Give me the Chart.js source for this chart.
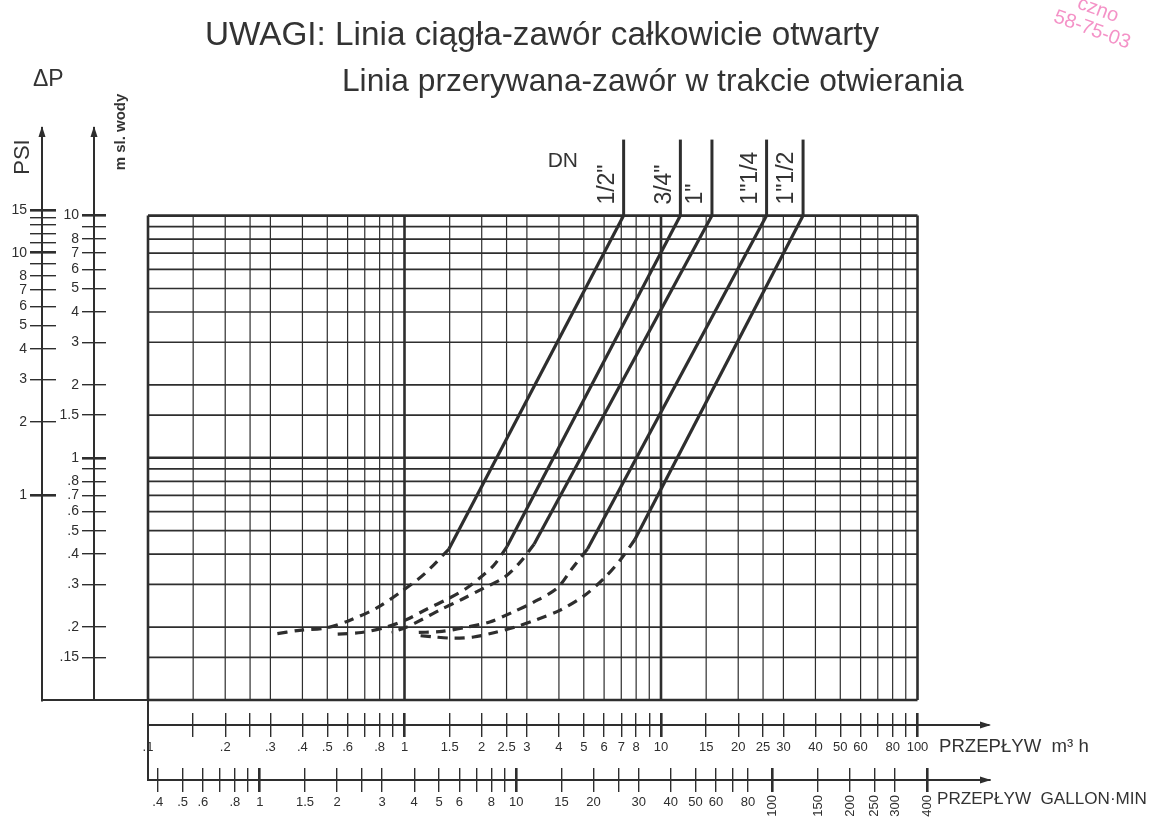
<!DOCTYPE html>
<html lang="pl">
<head>
  <meta charset="UTF-8">
  <title>Spadek ciśnienia na zaworze</title>
  <script src="https://cdn.jsdelivr.net/npm/chart.js@4.4.1/dist/chart.umd.min.js"></script>
  <style>
    html, body { margin: 0; padding: 0; background: #fff; }
    .chart-container { width: 1155px; height: 833px; position: relative; }
  </style>
</head>
<body>
  <div class="chart-container">
    <canvas id="chart"></canvas>
  </div>
  <script>
    // ---- values (flow in m3/h, pressure drop in m sl. wody) ----
    const dnLabels = ['1/2"', '3/4"', '1"', '1"1/4', '1"1/2'];

    // valve fully open: straight line, lower end and upper end
    const openFlow = [[1.49, 7.15], [2.51, 11.9], [3.2, 15.8], [5.17, 25.8], [7.91, 35.8]];
    const openDp   = [[0.42, 10],   [0.43, 10],   [0.44, 10],  [0.42, 10],   [0.46, 10]];

    // valve opening: dashed part
    const openingFlow = [
      [1.49, 1.19, 0.97, 0.78, 0.61, 0.49, 0.39, 0.31],
      [2.51, 2.23, 1.97, 1.75, 1.46, 1.22, 1.02, 0.85, 0.68, 0.54],
      [3.2, 2.82, 2.44, 2.04, 1.67, 1.37, 1.17, 1.02, 0.89],
      [5.17, 4.51, 3.94, 3.2, 2.63, 2.15, 1.75, 1.4, 1.13],
      [7.91, 6.96, 6.03, 5.03, 4.05, 3.29, 2.7, 2.25, 1.86, 1.56, 1.31, 1.11]
    ];
    const openingDp = [
      [0.42, 0.33, 0.28, 0.24, 0.213, 0.198, 0.194, 0.187],
      [0.43, 0.36, 0.32, 0.29, 0.26, 0.237, 0.215, 0.2, 0.19, 0.187],
      [0.44, 0.37, 0.32, 0.29, 0.26, 0.235, 0.215, 0.2, 0.19],
      [0.42, 0.35, 0.29, 0.254, 0.23, 0.21, 0.2, 0.192, 0.19],
      [0.46, 0.38, 0.32, 0.27, 0.235, 0.215, 0.2, 0.19, 0.182, 0.18, 0.182, 0.185]
    ];
    const dnMarkTop = 20.6; // DN label lines run up from 10 m to here

    // ---- ticks and grid ----
    const flowTicks  = [0.1, 0.15, 0.2, 0.25, 0.3, 0.4, 0.5, 0.6, 0.7, 0.8, 0.9, 1, 1.5, 2, 2.5, 3, 4, 5, 6, 7, 8, 9,
                        10, 15, 20, 25, 30, 40, 50, 60, 70, 80, 90, 100];
    const flowLabels = ['.1', '', '.2', '', '.3', '.4', '.5', '.6', '', '.8', '', '1', '1.5', '2', '2.5', '3', '4', '5', '6', '7', '8', '',
                        '10', '15', '20', '25', '30', '40', '50', '60', '', '80', '', '100'];
    const galTicks   = [0.4, 0.5, 0.6, 0.7, 0.8, 0.9, 1, 1.5, 2, 2.5, 3, 4, 5, 6, 7, 8, 9, 10, 15, 20, 25, 30, 40, 50, 60, 70, 80];
    const galLabels  = ['.4', '.5', '.6', '', '.8', '', '1', '1.5', '2', '', '3', '4', '5', '6', '', '8', '', '10', '15', '20', '', '30', '40', '50', '60', '', '80'];
    const galBigTicks  = [100, 150, 200, 250, 300, 400];
    const galBigLabels = ['100', '150', '200', '250', '300', '400'];
    const dpTicks    = [0.15, 0.2, 0.3, 0.4, 0.5, 0.6, 0.7, 0.8, 0.9, 1, 1.5, 2, 3, 4, 5, 6, 7, 8, 9, 10];
    const dpLabels   = ['.15', '.2', '.3', '.4', '.5', '.6', '.7', '.8', '', '1', '1.5', '2', '3', '4', '5', '6', '7', '8', '', '10'];
    const psiTicks   = [1, 2, 3, 4, 5, 6, 7, 8, 9, 10, 11, 12, 13, 14, 15];
    const psiLabels  = ['1', '2', '3', '4', '5', '6', '7', '8', '', '10', '', '', '', '', '15'];
    const gridFlow   = flowTicks;
    const gridDp     = [0.1].concat(dpTicks);

    const M_TO_PSI = 1.4223;   // 1 m H2O in psi
    const M3H_TO_GPM = 3.666;  // 1 m3/h in imperial gallons per minute
    const X_MIN = 0.1, X_MAX = 190, Y_MIN = 0.1, Y_MAX = 23;
    const GAL_SPLIT = 90;      // gallon scale: upright labels to the left, turned labels to the right

    const INK = '#2e2e2e';
    const FONT = '"Liberation Sans", Arial, sans-serif';

    // ---- scale helpers ----
    const fixedTicks = values => scale => { scale.ticks = values.map(v => ({ value: v })); };
    const labelFor = (values, labels) => v => { const i = values.indexOf(v); return i < 0 ? '' : labels[i]; };
    const setSize = (position, size) => s => { if (position === 'left') s.width = size; else s.height = size; };
    const tickGrid = (majors, len) => ({
      display: true, drawOnChartArea: false, drawTicks: true, tickLength: len, color: INK,
      lineWidth: c => (c.tick && majors.includes(c.tick.value)) ? 2.6 : 1.4
    });

    function spacer(position, weight, min, max, size) {
      return {
        type: 'logarithmic', position, weight, min, max,
        grid: { display: false, drawTicks: false }, border: { display: false }, ticks: { display: false },
        afterFit: setSize(position, size)
      };
    }
    function tickRow(position, weight, min, max, values, majors, len) {
      return {
        type: 'logarithmic', position, weight, min, max,
        grid: tickGrid(majors, len), border: { display: false }, ticks: { display: false },
        afterBuildTicks: fixedTicks(values), afterFit: setSize(position, len)
      };
    }
    function labelRow(position, weight, min, max, values, labels, majors, size, fontSize, rotation) {
      return {
        type: 'logarithmic', position, weight, min, max,
        grid: tickGrid(majors, 12), border: { display: true, color: INK, width: 2 },
        ticks: {
          display: true, autoSkip: false, minRotation: rotation || 0, maxRotation: rotation || 0, padding: 3, color: INK,
          font: { family: FONT, size: fontSize }, callback: labelFor(values, labels)
        },
        afterBuildTicks: fixedTicks(values), afterFit: setSize(position, size)
      };
    }

    const G_MIN = X_MIN * M3H_TO_GPM, G_MAX = X_MAX * M3H_TO_GPM;
    const P_MIN = Y_MIN * M_TO_PSI, P_MAX = Y_MAX * M_TO_PSI;
    const galShare = Math.log(GAL_SPLIT / G_MIN) / Math.log(G_MAX / G_MIN);

    const galLow = labelRow('bottom', 5, G_MIN, GAL_SPLIT, galTicks, galLabels, [1, 10], 46, 13);
    galLow.stack = 'gal'; galLow.stackWeight = galShare;
    const galHigh = labelRow('bottom', 6, GAL_SPLIT, G_MAX, galBigTicks, galBigLabels, [100, 400], 46, 13, 90);
    galHigh.stack = 'gal'; galHigh.stackWeight = 1 - galShare;

    // ---- datasets ----
    const datasets = [];
    dnLabels.forEach((dn, i) => {
      datasets.push({
        label: dn + ' otwarty',
        data: openFlow[i].map((q, j) => ({ x: q, y: openDp[i][j] })),
        borderColor: INK, borderWidth: 3.2
      });
      datasets.push({
        label: dn + ' w trakcie otwierania',
        data: openingFlow[i].map((q, j) => ({ x: q, y: openingDp[i][j] })),
        borderColor: INK, borderWidth: 3.2, borderDash: [10, 7], tension: 0.3
      });
      datasets.push({
        label: dn,
        data: [{ x: openFlow[i][1], y: openDp[i][1] }, { x: openFlow[i][1], y: dnMarkTop }],
        borderColor: INK, borderWidth: 3
      });
    });

    // ---- drawing of the paper grid and notes ----
    function line(ctx, x1, y1, x2, y2) {
      ctx.beginPath(); ctx.moveTo(x1, y1); ctx.lineTo(x2, y2); ctx.stroke();
    }
    function arrow(ctx, x, y, dir) {
      ctx.beginPath();
      if (dir === 'up') { ctx.moveTo(x, y); ctx.lineTo(x - 3.5, y + 11); ctx.lineTo(x + 3.5, y + 11); }
      else { ctx.moveTo(x, y); ctx.lineTo(x - 11, y - 3.5); ctx.lineTo(x - 11, y + 3.5); }
      ctx.closePath(); ctx.fill();
    }
    function fitText(ctx, text, x, y, width) {
      ctx.font = '30px ' + FONT;
      const size = 30 * width / ctx.measureText(text).width;
      ctx.font = size.toFixed(1) + 'px ' + FONT;
      ctx.fillText(text, x, y);
    }
    function rotText(ctx, text, x, y, angle, font, align) {
      ctx.save();
      ctx.translate(x, y); ctx.rotate(angle);
      ctx.font = font; ctx.textAlign = align || 'left'; ctx.textBaseline = 'middle';
      ctx.fillText(text, 0, 0);
      ctx.restore();
    }

    const paper = {
      id: 'paper',
      beforeDatasetsDraw(chart) {
        const { ctx, scales } = chart;
        const x = scales.x, y = scales.y;
        const xl = x.getPixelForValue(gridFlow[0]), xr = x.getPixelForValue(gridFlow[gridFlow.length - 1]);
        const yb = y.getPixelForValue(gridDp[0]), yt = y.getPixelForValue(gridDp[gridDp.length - 1]);
        ctx.save();
        ctx.strokeStyle = INK;
        gridFlow.forEach((v, i) => {
          const px = x.getPixelForValue(v);
          ctx.lineWidth = (i === 0 || i === gridFlow.length - 1 || v === 1 || v === 10) ? 2.6 : 1.2;
          line(ctx, px, yt, px, yb);
        });
        gridDp.forEach((v, i) => {
          const py = y.getPixelForValue(v);
          ctx.lineWidth = (i === 0 || i === gridDp.length - 1 || v === 1) ? 2.6 : 1.7;
          line(ctx, xl, py, xr, py);
        });
        // frame joining the side scales and the bottom scales
        ctx.lineWidth = 2;
        line(ctx, scales.yp.right, yb, xl, yb);
        line(ctx, xl, yb, xl, scales.xg.top);
        ctx.restore();
      },
      afterDraw(chart) {
        const { ctx, scales, chartArea } = chart;
        const x = scales.x, y = scales.y;
        ctx.save();
        ctx.fillStyle = INK;
        arrow(ctx, scales.yp.right, chartArea.top - 2, 'up');
        arrow(ctx, scales.ym.right, chartArea.top - 2, 'up');
        arrow(ctx, chartArea.right + 2, scales.xm.top, 'right');
        arrow(ctx, chartArea.right + 2, scales.xg.top, 'right');

        ctx.fillStyle = '#333';
        ctx.textBaseline = 'alphabetic';
        fitText(ctx, 'UWAGI: Linia ciągła-zawór całkowicie otwarty', 205, 45, 675);
        fitText(ctx, 'Linia przerywana-zawór w trakcie otwierania', 342, 91, 621);
        ctx.font = '23px ' + FONT;
        ctx.fillText('ΔP', 33, 86);

        rotText(ctx, 'PSI', 23, 157, -Math.PI / 2, '22px ' + FONT, 'center');
        rotText(ctx, 'm sl. wody', 121, 132, -Math.PI / 2, 'bold 15px ' + FONT, 'center');

        ctx.textBaseline = 'middle';
        fitText(ctx, 'PRZEPŁYW  m³ h', chartArea.right - 50, scales.xm.top + 22, 150);
        fitText(ctx, 'PRZEPŁYW  GALLON·MIN', chartArea.right - 52, scales.xg.top + 19, 210);

        // DN marks above the curves
        const topY = y.getPixelForValue(10);
        ctx.font = '21px ' + FONT;
        ctx.fillText('DN', x.getPixelForValue(openFlow[0][1]) - 76, topY - 54);
        dnLabels.forEach((dn, i) => {
          const px = x.getPixelForValue(openFlow[i][1]);
          rotText(ctx, dn, px - 16, topY - 11, -Math.PI / 2, '23px ' + FONT, 'left');
        });

        // stamp in the corner
        ctx.fillStyle = 'rgba(240, 110, 180, 0.75)';
        rotText(ctx, 'czno', 1098, 10, 0.35, '20px ' + FONT, 'center');
        rotText(ctx, '58-75-03', 1092, 30, 0.35, '20px ' + FONT, 'center');
        ctx.restore();
      }
    };

    const ctx = document.getElementById('chart').getContext('2d');
    new Chart(ctx, {
      type: 'scatter',
      data: { datasets },
      plugins: [paper],
      options: {
        responsive: true,
        maintainAspectRatio: false,
        animation: false,
        showLine: true,
        elements: { point: { radius: 0, hoverRadius: 0 }, line: { fill: false } },
        layout: { padding: { left: 6, right: 166, top: 128, bottom: 7 } },
        plugins: { legend: { display: false }, tooltip: { enabled: false } },
        scales: {
          x:   spacer('bottom', 0, X_MIN, X_MAX, 13),
          xmt: tickRow('bottom', 1, X_MIN, X_MAX, flowTicks, [1, 10, 100], 12),
          xm:  labelRow('bottom', 2, X_MIN, X_MAX, flowTicks, flowLabels, [1, 10, 100], 30, 13),
          xs:  spacer('bottom', 3, X_MIN, X_MAX, 13),
          xgt: tickRow('bottom', 4, G_MIN, G_MAX, galTicks.concat(galBigTicks), [1, 10, 100, 400], 12),
          xg:  galLow,
          xgr: galHigh,
          y:   spacer('left', 0, Y_MIN, Y_MAX, 42),
          ymt: tickRow('left', 1, Y_MIN, Y_MAX, dpTicks, [1, 10], 12),
          ym:  labelRow('left', 2, Y_MIN, Y_MAX, dpTicks, dpLabels, [1, 10], 38, 14),
          ypt: tickRow('left', 3, P_MIN, P_MAX, psiTicks, [1, 10, 15], 14),
          yp:  labelRow('left', 4, P_MIN, P_MAX, psiTicks, psiLabels, [1, 10, 15], 36, 14)
        }
      }
    });
  </script>
</body>
</html>
